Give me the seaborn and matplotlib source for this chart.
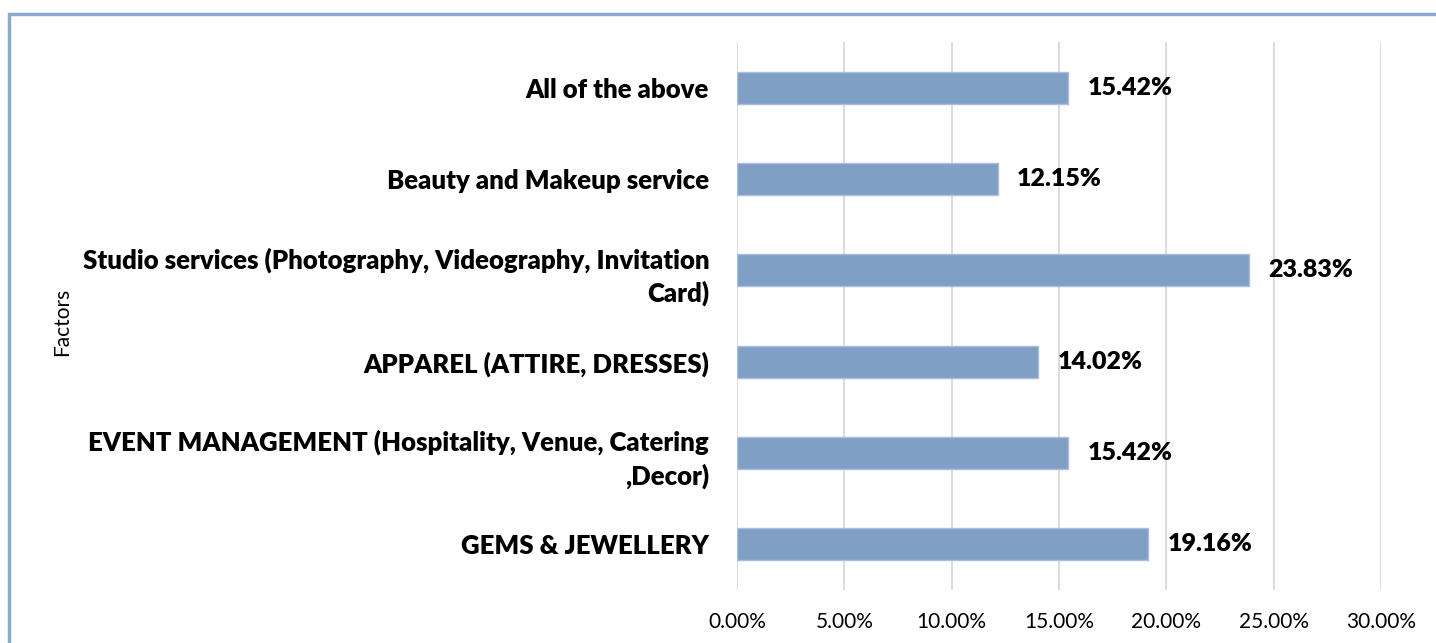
import pandas as pd
import matplotlib.pyplot as plt
import seaborn as sns
from matplotlib.patches import Rectangle
from matplotlib.ticker import PercentFormatter

# chart data
factors = [
    'All of the above',
    'Beauty and Makeup service',
    'Studio services (Photography, Videography, Invitation\nCard)',
    'APPAREL (ATTIRE, DRESSES)',
    'EVENT MANAGEMENT (Hospitality, Venue, Catering\n,Decor)',
    'GEMS & JEWELLERY',
]
shares = [15.42, 12.15, 23.83, 14.02, 15.42, 19.16]
x_ticks = [0, 5, 10, 15, 20, 25, 30]

df = pd.DataFrame({'factor': factors, 'share': shares})

sns.set_style('white')
plt.rcParams['font.family'] = ['Lato', 'DejaVu Sans']
plt.rcParams['text.color'] = 'black'
plt.rcParams['xtick.color'] = 'black'
plt.rcParams['ytick.color'] = 'black'

fig = plt.figure(figsize=(14.36, 6.43), dpi=100)
ax = fig.add_axes([0.5132, 0.0824, 0.4485, 0.8523])

sns.barplot(data=df, x='share', y='factor', color='#7f9fc5', saturation=1,
            width=0.35, edgecolor='#a9bfdc', linewidth=1, ax=ax)

ax.set_xlim(0, 30)
ax.set_xticks(x_ticks)
ax.xaxis.set_major_formatter(PercentFormatter(decimals=2))
ax.grid(axis='x', color='#d9d9d9', linewidth=1.3)
ax.set_axisbelow(True)
for s in ax.spines.values():
    s.set_visible(False)
ax.tick_params(axis='x', length=0, labelsize=15, pad=16)
ax.tick_params(axis='y', length=0, pad=20)
for lbl in ax.get_yticklabels():
    lbl.set_fontweight('heavy')
    lbl.set_fontsize(18.5)
    lbl.set_linespacing(1.4)
ax.set_xlabel('')
ax.set_ylabel('')
fig.text(0.043, 0.5, 'Factors', rotation=90, fontsize=15, va='center', ha='center')

for c in ax.containers:
    ax.bar_label(c, labels=[f'{v:.2f}%' for v in c.datavalues], padding=14,
                 fontsize=18, fontweight='heavy')

# chart-area border
fig.patches.append(Rectangle((9 / 1436, -0.05), 1.2, 1 - 14 / 643 + 0.05,
                             transform=fig.transFigure, fill=False,
                             edgecolor='#8eaad0', linewidth=2.5))

fig.savefig('out.png', dpi=100)
